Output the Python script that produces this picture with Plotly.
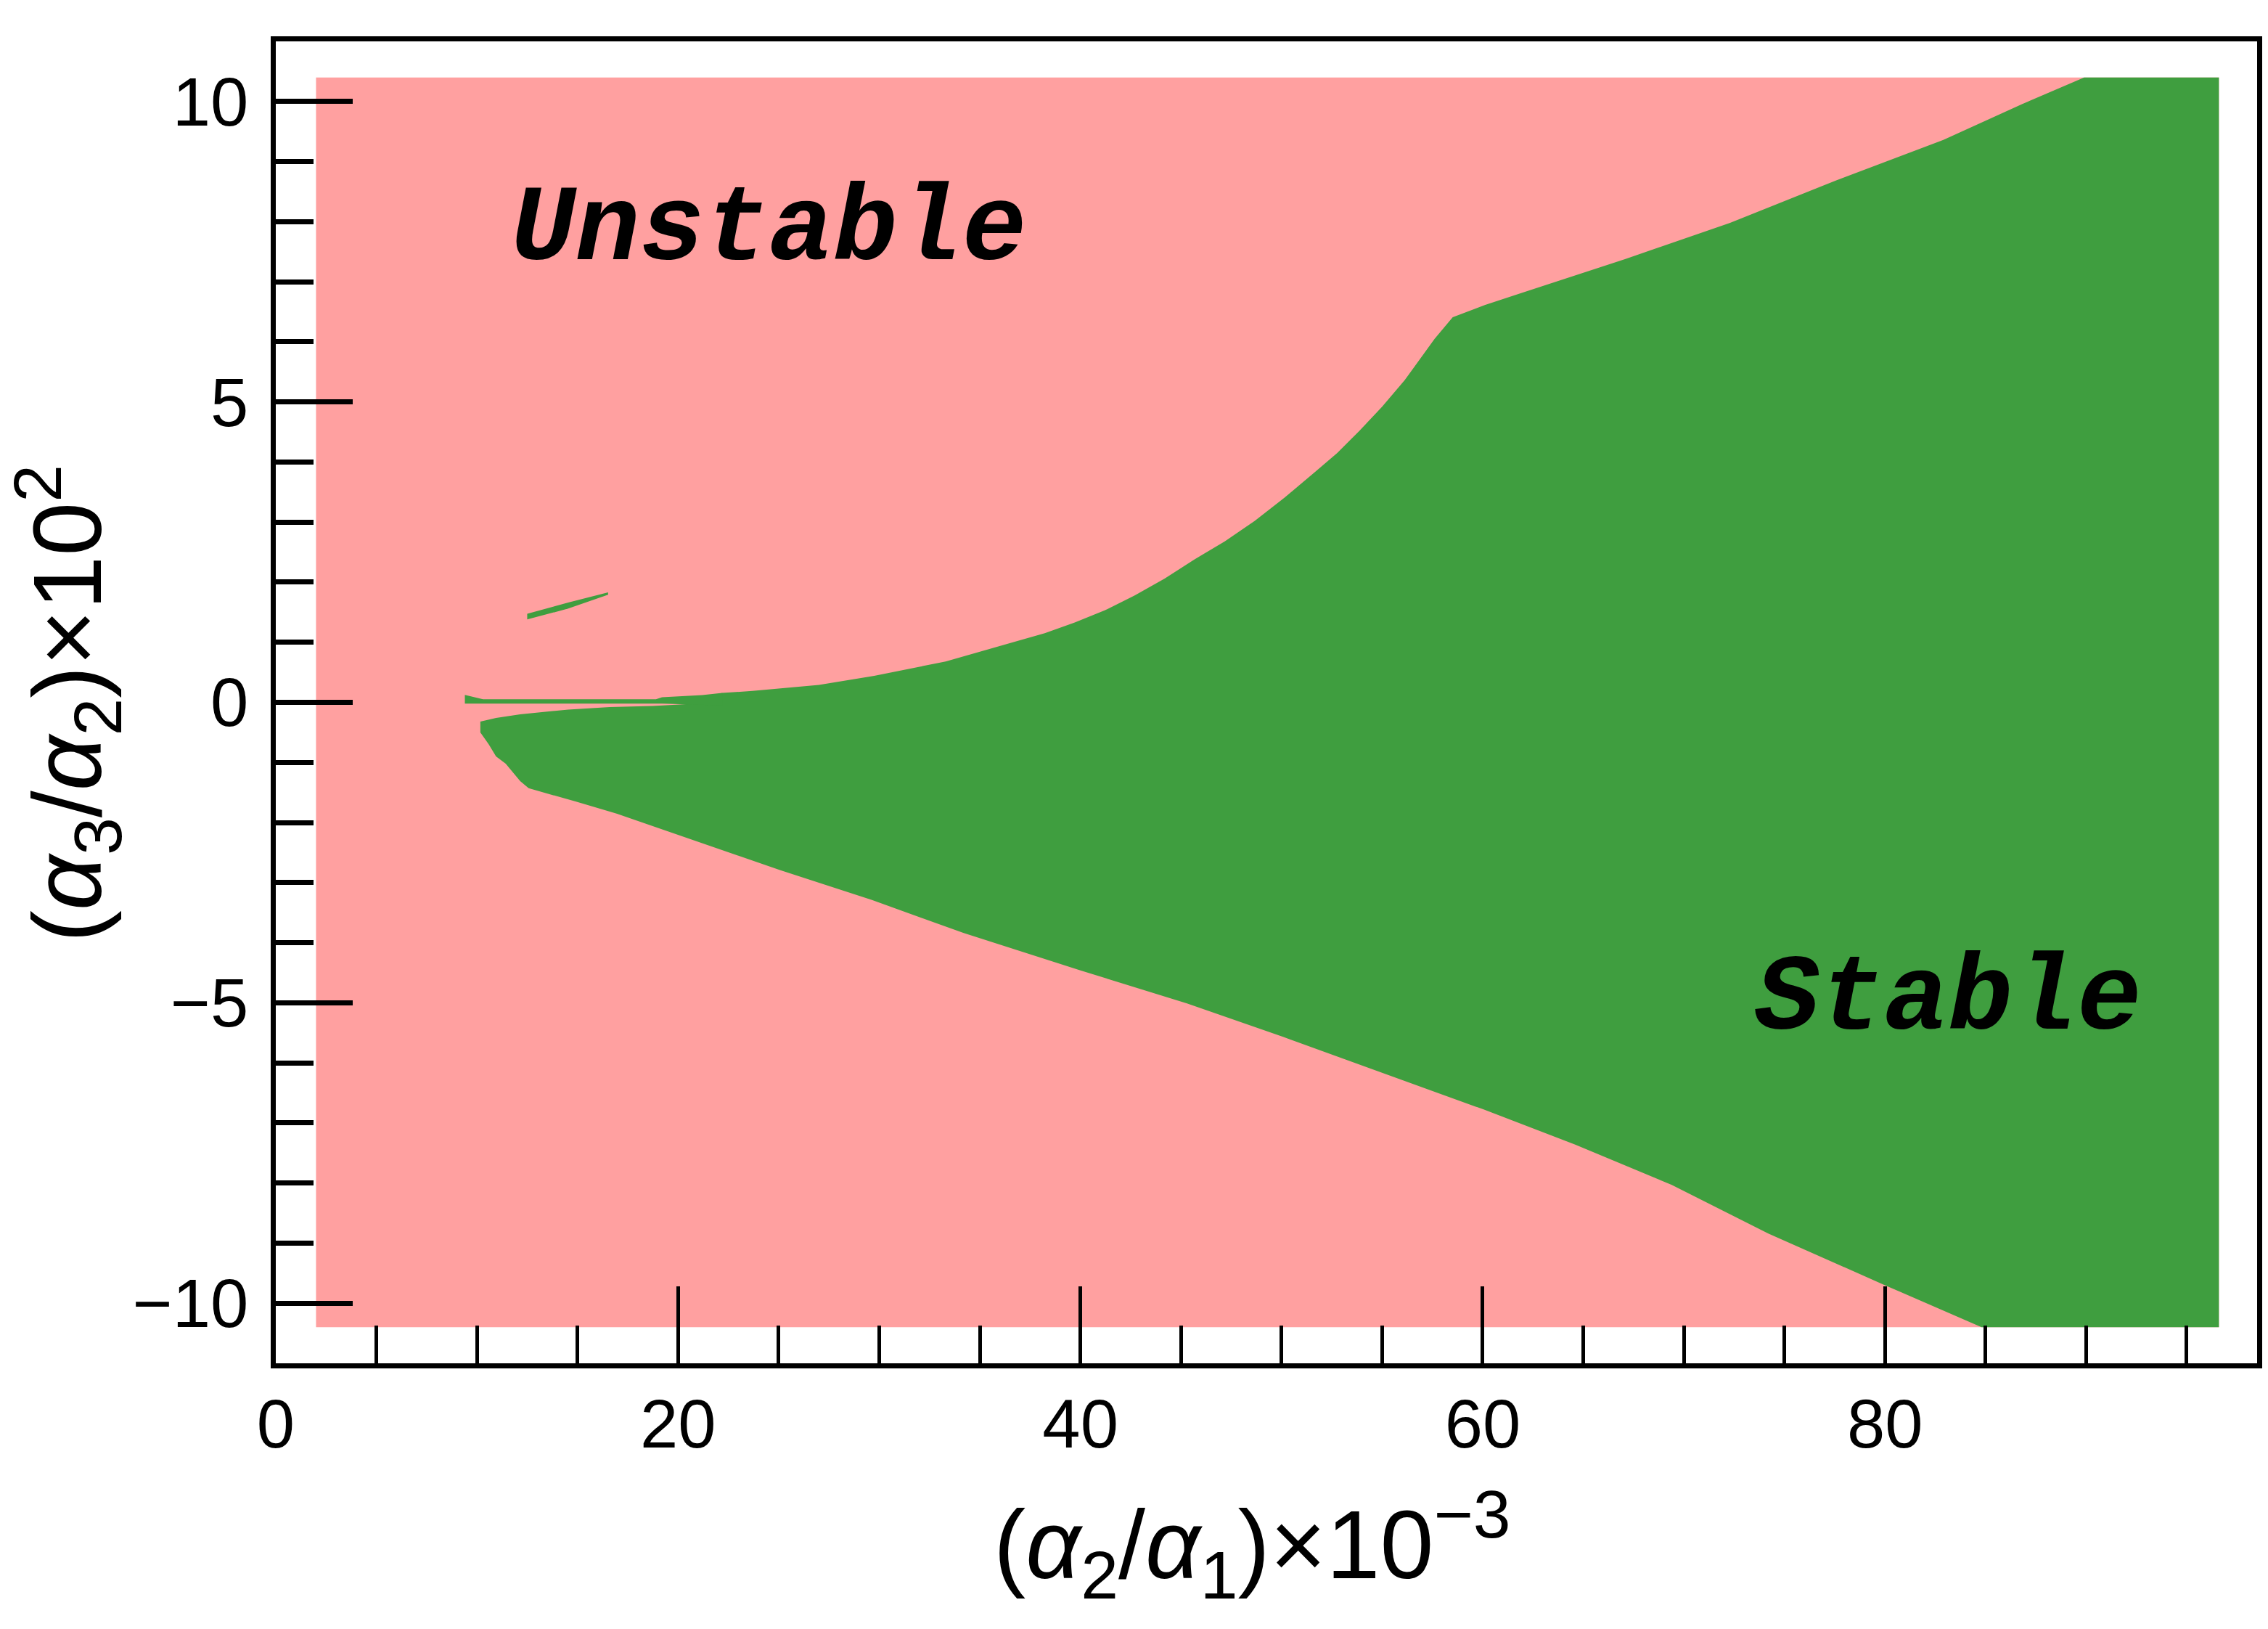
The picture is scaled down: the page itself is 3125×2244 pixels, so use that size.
import plotly.graph_objects as go

# computed domain (pink = unstable background)
domain_x = [2.0, 96.6, 96.6, 2.0]
domain_y = [-10.4, -10.4, 10.4, 10.4]

# stable region outline
upper_x = [10.17, 10.95, 12.15, 13.35, 14.54, 16.6, 18.74, 20.4, 22.2, 23.7, 27.0, 29.75,
           33.3, 36.74, 38.23, 39.72, 41.21, 42.70, 44.19, 45.68, 47.18, 48.67, 50.16,
           51.65, 52.77, 53.88, 55.0, 56.12, 56.87, 57.61, 58.51, 60.1, 61.8, 67.1, 72.3,
           77.6, 82.9, 86.85, 89.9]
upper_y = [-0.32, -0.26, -0.20, -0.16, -0.12, -0.08, -0.06, -0.03, 0.157, 0.19, 0.29, 0.44,
           0.68, 1.01, 1.15, 1.33, 1.53, 1.78, 2.06, 2.38, 2.68, 3.02, 3.41,
           3.83, 4.15, 4.52, 4.92, 5.36, 5.70, 6.05, 6.41, 6.61, 6.80, 7.38, 7.98,
           8.69, 9.36, 9.96, 10.4]
lower_x = [10.17, 10.59, 10.95, 11.43, 11.79, 12.15, 12.57, 14.9, 16.94, 20.0, 25.06, 29.64,
           34.2, 40.0, 45.3, 50.1, 54.9, 60.0, 64.6, 69.4, 74.2, 80.0, 84.8]
lower_y = [-0.50, -0.70, -0.90, -1.02, -1.16, -1.31, -1.43, -1.65, -1.85, -2.21, -2.79, -3.29,
           -3.84, -4.46, -5.01, -5.57, -6.15, -6.77, -7.36, -8.03, -8.84, -9.70, -10.4]
edge_x = [96.6, 96.6]
edge_y = [10.4, -10.4]

# thin stable filament just above zero
fil_x = [9.4, 10.3, 18.9, 19.2, 21.2, 22.2, 22.2, 20.4, 19.2, 9.4]
fil_y = [0.125, 0.05, 0.05, 0.085, 0.12, 0.157, -0.05, -0.03, -0.02, -0.02]

# small isolated stable streak
streak_x = [12.5, 12.5, 14.54, 16.52, 16.52, 14.54]
streak_y = [1.38, 1.475, 1.66, 1.83, 1.79, 1.56]

PINK = '#FFA0A0'
GREEN = '#3F9E3F'

fig = go.Figure()

fig.add_trace(go.Scatter(x=domain_x, y=domain_y, fill='toself', fillcolor=PINK,
                         mode='lines', line=dict(width=0, color=PINK), hoverinfo='skip'))

main_x = upper_x + edge_x + lower_x[::-1]
main_y = upper_y + edge_y + lower_y[::-1]
fig.add_trace(go.Scatter(x=main_x, y=main_y, fill='toself', fillcolor=GREEN,
                         mode='lines', line=dict(width=0, color=GREEN), hoverinfo='skip'))
fig.add_trace(go.Scatter(x=fil_x, y=fil_y, fill='toself', fillcolor=GREEN,
                         mode='lines', line=dict(width=0, color=GREEN), hoverinfo='skip'))
fig.add_trace(go.Scatter(x=streak_x, y=streak_y, fill='toself', fillcolor=GREEN,
                         mode='lines', line=dict(width=0, color=GREEN), hoverinfo='skip'))

label_font = dict(family='Liberation Mono', size=148, color='black', weight='bold')
fig.add_annotation(x=24.5, y=7.85, text='<i>Unstable</i>', showarrow=False,
                   font=label_font, xanchor='center', yanchor='middle')
fig.add_annotation(x=83.15, y=-4.95, text='<i>Stable</i>', showarrow=False,
                   font=label_font, xanchor='center', yanchor='middle')

title_font = dict(family='Liberation Sans', size=133, color='black')
fig.add_annotation(xref='paper', yref='paper', x=0.493, y=-0.1375,
                   text='(<i>α</i><sub>2</sub>/<i>α</i><sub>1</sub>)×10<sup>−3</sup>',
                   showarrow=False, font=title_font, xanchor='center', yanchor='middle')
fig.add_annotation(xref='paper', yref='paper', x=-0.1048, y=0.499, textangle=-90,
                   text='(<i>α</i><sub>3</sub>/<i>α</i><sub>2</sub>)×10<sup>2</sup>',
                   showarrow=False, font=title_font, xanchor='center', yanchor='middle')

fig.update_xaxes(range=[0, 98.5], tick0=0, dtick=20, ticks='inside', ticklen=106,
                 tickwidth=5, tickcolor='black', showline=True, linewidth=7,
                 linecolor='black', mirror=True, showgrid=False, zeroline=False,
                 tickfont=dict(family='Liberation Sans', size=94, color='black'),
                 ticklabelstandoff=-4,
                 minor=dict(ticks='inside', ticklen=52, tickwidth=5, dtick=5,
                            tickcolor='black', showgrid=False))
fig.update_yaxes(range=[-11, 11], tick0=0, dtick=5, ticks='inside', ticklen=106,
                 tickwidth=7, tickcolor='black', showline=True, linewidth=7,
                 linecolor='black', mirror=True, showgrid=False, zeroline=False,
                 tickfont=dict(family='Liberation Sans', size=94, color='black'),
                 ticklabelstandoff=12,
                 minor=dict(ticks='inside', ticklen=52, tickwidth=7, dtick=1,
                            tickcolor='black', showgrid=False))

fig.update_layout(width=3125, height=2244, showlegend=False,
                  margin=dict(l=380, r=8, t=57, b=366),
                  plot_bgcolor='white', paper_bgcolor='white')

# drop the browser's default 8px body margin so the figure sits at the page corner
fig.write_html('out.html', config={'displayModeBar': False},
               post_script="document.body.style.margin='0px';")
